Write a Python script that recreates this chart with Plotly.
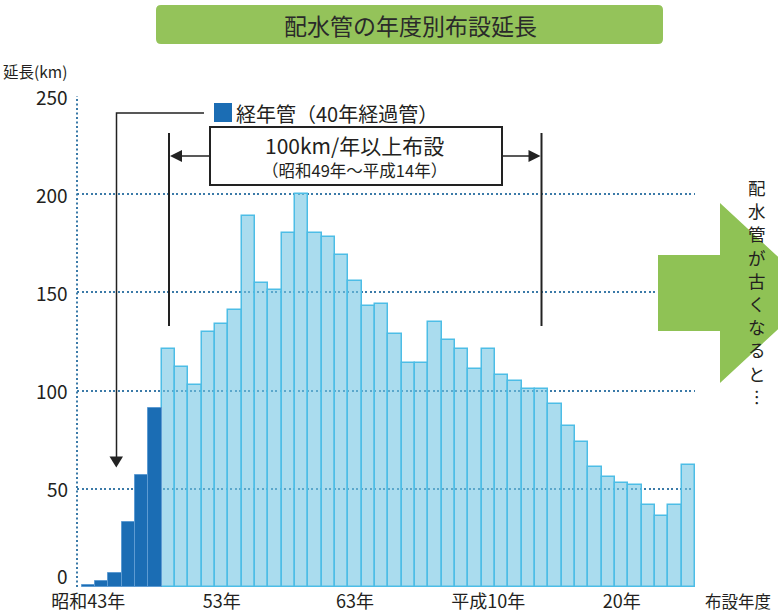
import plotly.graph_objects as go

# ---- data (fiscal year of installation, km laid) ----
aged_years = [1968, 1969, 1970, 1971, 1972, 1973]
aged_km = [1, 3, 7, 33, 57, 91]

other_years = [1974, 1975, 1976, 1977, 1978, 1979, 1980, 1981, 1982, 1983,
               1984, 1985, 1986, 1987, 1988, 1989, 1990, 1991, 1992, 1993,
               1994, 1995, 1996, 1997, 1998, 1999, 2000, 2001, 2002, 2003,
               2004, 2005, 2006, 2007, 2008, 2009, 2010, 2011, 2012, 2013]
other_km = [121, 112, 103, 130, 134, 141, 189, 155, 151, 180,
            200, 180, 178, 169, 156, 143, 144, 129, 114, 114,
            135, 126, 121, 111, 121, 108, 105, 101, 101, 93,
            82, 74, 61, 56, 53, 52, 42, 36, 42, 62]

tick_years = [1968, 1978, 1988, 1998, 2008]
tick_text = ["昭和43年", "53年", "63年", "平成10年", "20年"]
y_ticks = [0, 50, 100, 150, 200, 250]

FONT = "Noto Sans CJK JP"
TXT = "#231f20"
GREEN = "#94c35a"

W, H = 778, 612
ML, MR, MT, MB = 77, 83, 96, 25
PW, PH = W - ML - MR, H - MT - MB


def PX(x):
    return (x - ML) / PW


def PY(y):
    return (H - MB - y) / PH


def path(points, close=True):
    s = "M " + " L ".join(f"{PX(x):.5f},{PY(y):.5f}" for x, y in points)
    return s + (" Z" if close else "")


def rounded(x0, y0, x1, y1, r):
    a = PX
    b = PY
    return (f"M {a(x0+r)},{b(y0)} L {a(x1-r)},{b(y0)} Q {a(x1)},{b(y0)} {a(x1)},{b(y0+r)} "
            f"L {a(x1)},{b(y1-r)} Q {a(x1)},{b(y1)} {a(x1-r)},{b(y1)} "
            f"L {a(x0+r)},{b(y1)} Q {a(x0)},{b(y1)} {a(x0)},{b(y1-r)} "
            f"L {a(x0)},{b(y0+r)} Q {a(x0)},{b(y0)} {a(x0+r)},{b(y0)} Z")


fig = go.Figure()
fig.add_trace(go.Bar(
    x=other_years, y=other_km, width=1,
    marker=dict(color="rgba(113,197,227,0.6)",
                line=dict(color="#4dbde6", width=1.5)),
    showlegend=False, hoverinfo="x+y"))
fig.add_trace(go.Bar(
    x=aged_years, y=aged_km, width=1,
    marker=dict(color="#1b6db4", line=dict(color="#5d9bd2", width=1)),
    showlegend=False, hoverinfo="x+y"))

shapes = []
# left dotted axis
shapes.append(dict(type="line", xref="paper", yref="y", x0=0, x1=0, y0=0, y1=250,
                   line=dict(color="#3b7aa8", width=2, dash="2px,2.5px"), layer="below"))
# title box
shapes.append(dict(type="path", xref="paper", yref="paper", path=rounded(156, 5, 663, 44, 5),
                   fillcolor=GREEN, line=dict(width=0)))
# legend square
shapes.append(dict(type="rect", xref="paper", yref="paper",
                   x0=PX(214), x1=PX(232), y0=PY(103), y1=PY(122),
                   fillcolor="#1b6db4", line=dict(width=0)))
# leader line from legend down to aged pipes
shapes.append(dict(type="path", xref="paper", yref="paper",
                   path=path([(204, 113), (116.5, 113), (116.5, 458)], close=False),
                   line=dict(color="#222", width=1.5)))
shapes.append(dict(type="path", xref="paper", yref="paper",
                   path=path([(109.5, 456.5), (123, 456.5), (116.3, 467.5)]),
                   fillcolor="#222", line=dict(width=0)))
# bracket verticals
for xv in (169, 541.5):
    shapes.append(dict(type="line", xref="paper", yref="paper",
                       x0=PX(xv), x1=PX(xv), y0=PY(133), y1=PY(326),
                       line=dict(color="#222", width=2)))
# bracket arrows
shapes.append(dict(type="line", xref="paper", yref="paper",
                   x0=PX(180), x1=PX(210), y0=PY(156), y1=PY(156),
                   line=dict(color="#222", width=1.5)))
shapes.append(dict(type="line", xref="paper", yref="paper",
                   x0=PX(502), x1=PX(530), y0=PY(156), y1=PY(156),
                   line=dict(color="#222", width=1.5)))
shapes.append(dict(type="path", xref="paper", yref="paper",
                   path=path([(170, 156), (182, 150), (182, 162)]),
                   fillcolor="#222", line=dict(width=0)))
shapes.append(dict(type="path", xref="paper", yref="paper",
                   path=path([(540.5, 156), (528.5, 150), (528.5, 162)]),
                   fillcolor="#222", line=dict(width=0)))
# box
shapes.append(dict(type="rect", xref="paper", yref="paper",
                   x0=PX(210), x1=PX(502), y0=PY(127), y1=PY(185),
                   fillcolor="white", line=dict(color="#222", width=2)))
# green block arrow
shapes.append(dict(type="path", xref="paper", yref="paper",
                   path=path([(658, 255), (720, 255), (720, 203), (817, 293),
                              (720, 383), (720, 331), (658, 331)]),
                   fillcolor="#8fc255", line=dict(width=0)))

annotations = [
    dict(text="配水管の年度別布設延長", x=PX(410), y=PY(25), font=dict(size=23, color="#2a2a2a")),
    dict(text="延長(km)", x=PX(35), y=PY(71), font=dict(size=15.5)),
    dict(text="経年管（40年経過管）", x=PX(234), y=PY(113), xanchor="left", font=dict(size=20)),
    dict(text="100km/年以上布設", x=PX(354), y=PY(145), font=dict(size=21)),
    dict(text="（昭和49年～平成14年）", x=PX(354), y=PY(170), font=dict(size=16.5)),
    dict(text="布設年度", x=PX(738), y=PY(601), font=dict(size=16.5)),
]
# vertical caption, one character per line
vchars = list("配水管が古くなると") + ["︙"]
for i, ch in enumerate(vchars):
    annotations.append(dict(text=ch, x=PX(757), y=PY(187.5 + 23.2 * i), font=dict(size=17.5)))

for a in annotations:
    a.update(xref="paper", yref="paper", showarrow=False)
    a.setdefault("xanchor", "center")
    a.setdefault("yanchor", "middle")
    a["font"].setdefault("color", TXT)
    a["font"]["family"] = FONT

# y tick labels (tied to the y scale)
for v in y_ticks:
    annotations.append(dict(text=str(v), xref="paper", yref="y", x=0, y=v,
                            xanchor="right", yanchor="middle", xshift=-7,
                            yshift=12 if v == 0 else 0, showarrow=False,
                            font=dict(size=19, family=FONT, color=TXT)))

fig.update_layout(
    width=W, height=H,
    margin=dict(l=ML, r=MR, t=MT, b=MB, pad=0, autoexpand=False),
    paper_bgcolor="white", plot_bgcolor="white",
    barmode="overlay", bargap=0,
    font=dict(family=FONT, color=TXT),
    shapes=shapes, annotations=annotations,
    xaxis=dict(range=[1967.15, 2013.5], tickmode="array", tickvals=tick_years,
               ticktext=tick_text, showgrid=False, zeroline=False, showline=False,
               ticks="", automargin=False, ticklabelstandoff=2,
               tickfont=dict(size=18, family=FONT, color=TXT)),
    yaxis=dict(range=[0, 250], tickmode="array", tickvals=y_ticks,
               showgrid=True, gridcolor="#3b7aa8", gridwidth=2, griddash="2px,2.5px",
               zeroline=False, showline=False, ticks="", showticklabels=False,
               automargin=False),
)

fig.write_html("out.html")
